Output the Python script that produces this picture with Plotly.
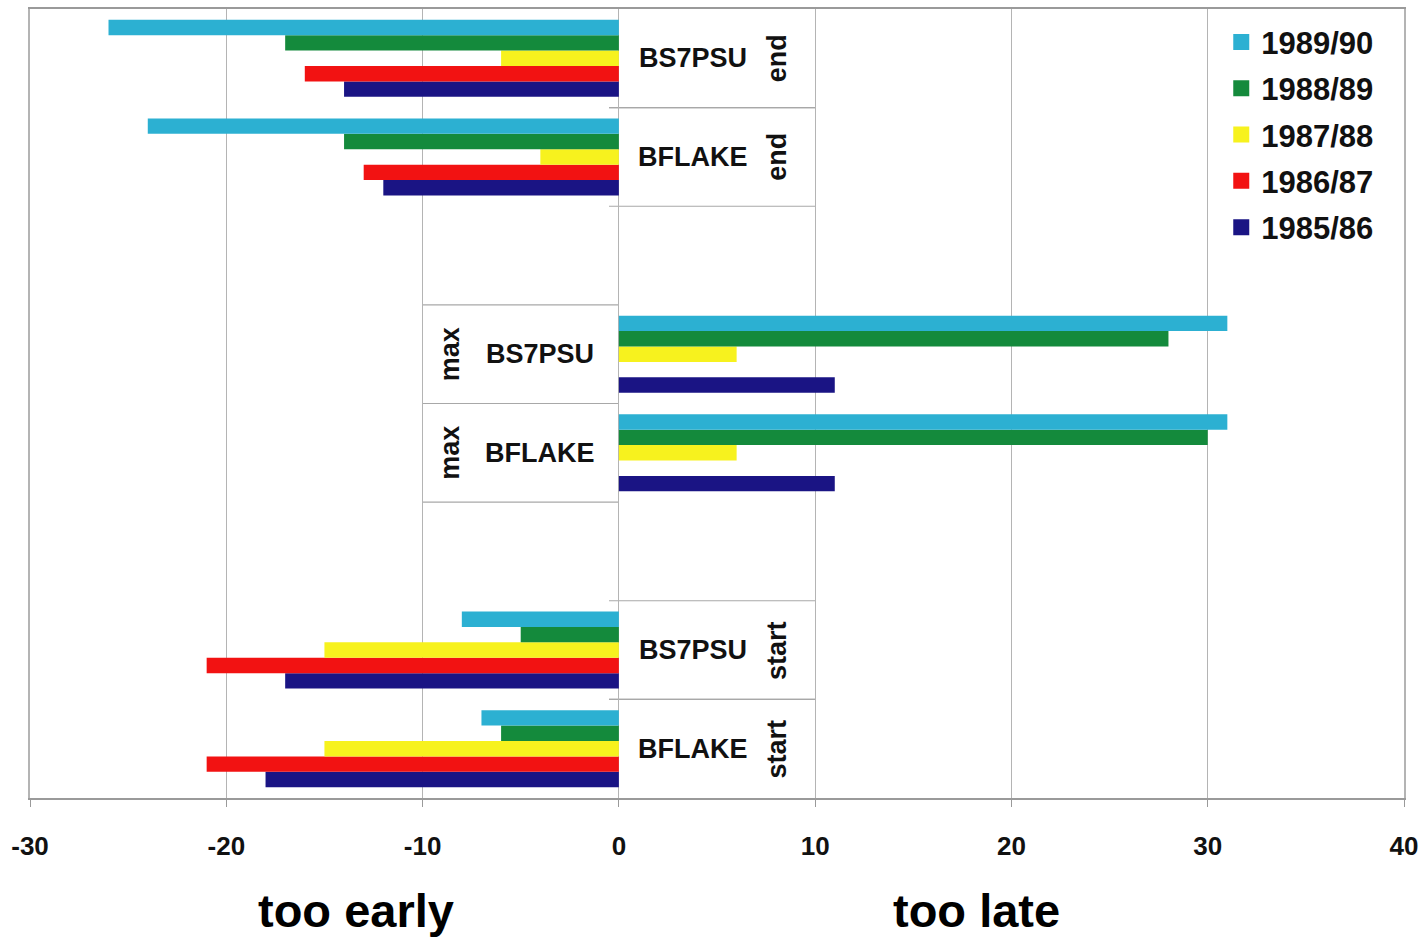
import plotly.graph_objects as go

# ---- data ----
models = ["BS7PSU", "BFLAKE", "BS7PSU", "BFLAKE", "BS7PSU", "BFLAKE"]
phases = ["end", "end", "max", "max", "start", "start"]
phase_order = ["end", "max", "start"]

seasons = ["1985/86", "1986/87", "1987/88", "1988/89", "1989/90"]
v_1985_86 = [-14, -12, 11, 11, -17, -18]
v_1986_87 = [-16, -13, None, None, -21, -21]
v_1987_88 = [-6, -4, 6, 6, -15, -15]
v_1988_89 = [-17, -14, 28, 30, -5, -6]
v_1989_90 = [-26, -24, 31, 31, -8, -7]
values = [v_1985_86, v_1986_87, v_1987_88, v_1988_89, v_1989_90]

x_ticks = [-30, -20, -10, 0, 10, 20, 30, 40]
axis_labels = ["too early", "too late"]

# ---- styling ----
colors = ["#1A1484", "#F21212", "#F7F21E", "#148A3C", "#2CB0D2"]
n_slots = 8
FONT = "Liberation Sans, Arial, sans-serif"

def slot_y(i):
    p = phase_order.index(phases[i])
    m = 0 if models[i] == "BS7PSU" else 1
    slot = p * 3 + m
    return n_slots - 1 - slot

ys = [slot_y(i) for i in range(len(models))]

fig = go.Figure()
for s, vals, c in zip(seasons, values, colors):
    fig.add_trace(go.Bar(
        x=vals, y=ys, orientation="h", name=s, showlegend=False,
        marker=dict(color=c, line=dict(width=0)),
    ))
# legend entries with larger square swatches (top entry = latest season)
for s, c in reversed(list(zip(seasons, colors))):
    fig.add_trace(go.Scatter(
        x=[None], y=[None], mode="markers", name=s, legendgroup=s,
        marker=dict(symbol="square", size=22, color=c),
    ))

shapes = []
annotations = []
gray = "#a8a8a8"
lab_font = dict(family=FONT, size=27, color="#111", weight="bold")
for i in range(len(models)):
    y = ys[i]
    if phases[i] == "max":
        x0, x1 = -10, 0
        name_x, ph_x = -4.0, -8.6
    else:
        x0, x1 = -0.5, 10
        name_x, ph_x = 3.8, 8.05
    for yb in (y - 0.5, y + 0.5):
        if -0.5 < yb < n_slots - 0.5:
            shapes.append(dict(type="line", xref="x", yref="y", x0=x0, x1=x1,
                               y0=yb, y1=yb, line=dict(color=gray, width=1.2), layer="below"))
    annotations.append(dict(x=name_x, y=y, xref="x", yref="y", text=models[i],
                            showarrow=False, font=lab_font))
    annotations.append(dict(x=ph_x, y=y, xref="x", yref="y", text=phases[i], textangle=-90,
                            showarrow=False, font=lab_font))

big_font = dict(family=FONT, size=47, color="#000", weight="bold")
annotations.append(dict(x=-13.4, y=-0.142, xref="x", yref="paper", yanchor="middle",
                        text=axis_labels[0], showarrow=False, font=big_font))
annotations.append(dict(x=18.2, y=-0.142, xref="x", yref="paper", yanchor="middle",
                        text=axis_labels[1], showarrow=False, font=big_font))

fig.update_layout(
    width=1425, height=937,
    margin=dict(l=30, r=20, t=7, b=139),
    paper_bgcolor="white", plot_bgcolor="white",
    barmode="group", bargap=0.22, bargroupgap=0,
    shapes=shapes, annotations=annotations,
    font=dict(family=FONT, color="#000"),
    legend=dict(x=0.867, y=0.992, xanchor="left", yanchor="top",
                traceorder="grouped", tracegroupgap=3, bgcolor="rgba(0,0,0,0)",
                font=dict(family=FONT, size=31, color="#111", weight="bold"),
                itemwidth=30),
)
fig.update_xaxes(range=[-30, 40], tickvals=x_ticks, ticktext=[str(t) for t in x_ticks],
                 showgrid=True, gridcolor="#b4b4b4", gridwidth=1, zeroline=False,
                 showline=True, linecolor="#9a9a9a", linewidth=2, mirror=True,
                 ticks="outside", ticklen=7, tickcolor="#9a9a9a",
                 tickfont=dict(family=FONT, size=26, color="#111", weight="bold"),
                 ticklabelstandoff=17)
fig.update_yaxes(range=[-0.5, n_slots - 0.5], showticklabels=False, showgrid=False,
                 zeroline=False, showline=True, linecolor="#b4b4b4", linewidth=2, mirror=True,
                 ticks="")

fig.write_html("out.html", config={"displayModeBar": False},
               post_script="document.body.style.margin='0px';")
